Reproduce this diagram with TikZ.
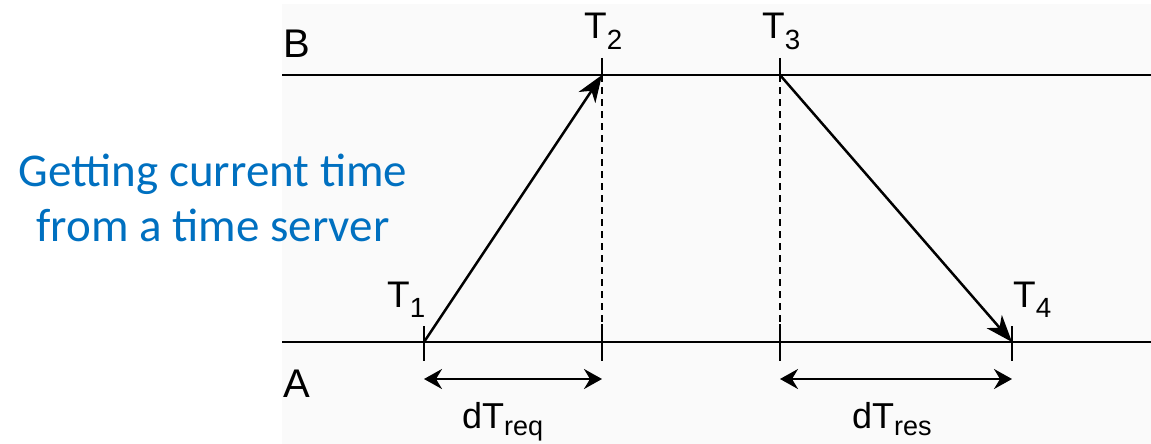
\documentclass[tikz,border=0pt]{standalone}
\usepackage{fontspec}
\setmainfont{Liberation Sans}
\newfontfamily\calib{Carlito}
\usetikzlibrary{arrows.meta}
\definecolor{titleblue}{RGB}{0,112,192}
\definecolor{panelbg}{RGB}{250,250,250}
\newcommand{\lowsub}[1]{\raisebox{-0.28em}{\fontsize{0.75\dimexpr\fontdimen6\font}{0pt}\selectfont #1}}
\newcommand{\lowsubb}[1]{\raisebox{-0.22em}{\fontsize{0.75\dimexpr\fontdimen6\font}{0pt}\selectfont #1}}
\tikzset{
  axis/.style={line width=2.5pt},
  tick/.style={line width=2.5pt},
  dashline/.style={line width=1.8pt, dash pattern=on 7pt off 5pt},
  msg/.style={line width=2.5pt, -{Stealth[length=27pt,width=20pt,inset=8pt]}},
  span/.style={line width=2.5pt, {Stealth[length=18pt,width=20pt,inset=6pt]}-{Stealth[length=18pt,width=20pt,inset=6pt]}},
  lbl/.style={inner sep=0pt, anchor=base west, font=\fontsize{40}{48}\selectfont},
  tlbl/.style={inner sep=0pt, anchor=base west, font=\fontsize{37}{44}\selectfont},
  dlbl/.style={inner sep=0pt, anchor=base west, font=\fontsize{36}{43}\selectfont},
  title/.style={inner sep=0pt, align=center, text=titleblue, font=\calib\fontsize{47}{55}\selectfont}
}
\begin{document}
\begin{tikzpicture}[x=1pt,y=-1pt]
\useasboundingbox (0,0) rectangle (1151,444);
\fill[panelbg] (282,4) rectangle (1151,444);
% axes
\coordinate (bL) at (282,75);
\coordinate (bR) at (1151,75);
\coordinate (aL) at (282,342);
\coordinate (aR) at (1151,342);
\draw[axis] (bL) -- (bR);
\draw[axis] (aL) -- (aR);
% event points
\coordinate (t1) at (424,342);
\coordinate (t2) at (602,75);
\coordinate (t3) at (780,75);
\coordinate (t4) at (1012,342);
% ticks on B
\coordinate (t2top) at (602,58);
\coordinate (t3top) at (780,58);
\draw[tick] (t2top) -- (t2);
\draw[tick] (t3top) -- (t3);
% ticks on A
\coordinate (t1u) at (424,326); \coordinate (t1d) at (424,361);
\coordinate (t4u) at (1012,326); \coordinate (t4d) at (1012,361);
\coordinate (a2u) at (602,324); \coordinate (a2d) at (602,361);
\coordinate (a3u) at (780,324); \coordinate (a3d) at (780,361);
\draw[tick] (t1u) -- (t1d);
\draw[tick] (t4u) -- (t4d);
\draw[tick] (a2u) -- (a2d);
\draw[tick] (a3u) -- (a3d);
% dashed verticals
\draw[dashline] (t2) -- (a2u);
\draw[dashline] (t3) -- (a3u);
% messages
\draw[msg] (t1) -- (t2);
\draw[msg] (t3) -- (t4);
% spans
\coordinate (s1) at (424,379); \coordinate (s2) at (602,379);
\coordinate (s3) at (780,379); \coordinate (s4) at (1012,379);
\draw[span] (s1) -- (s2);
\draw[span] (s3) -- (s4);
% labels
\node[lbl] (lB) at (283,58) {B};
\node[lbl] (lA) at (283,397) {A};
\node[tlbl] (lT1) at (387,307) {T\lowsub{1}};
\node[tlbl] (lT2) at (584,39) {T\lowsub{2}};
\node[tlbl] (lT3) at (762,39) {T\lowsub{3}};
\node[tlbl] (lT4) at (1013,307) {T\lowsub{4}};
\node[dlbl] (lreq) at (462,428) {dT\lowsubb{req}};
\node[dlbl] (lres) at (852,428) {dT\lowsubb{res}};
\node[title, anchor=base] (cap) at (213,241) {Getting current time\\from a time server};
\end{tikzpicture}
\end{document}
